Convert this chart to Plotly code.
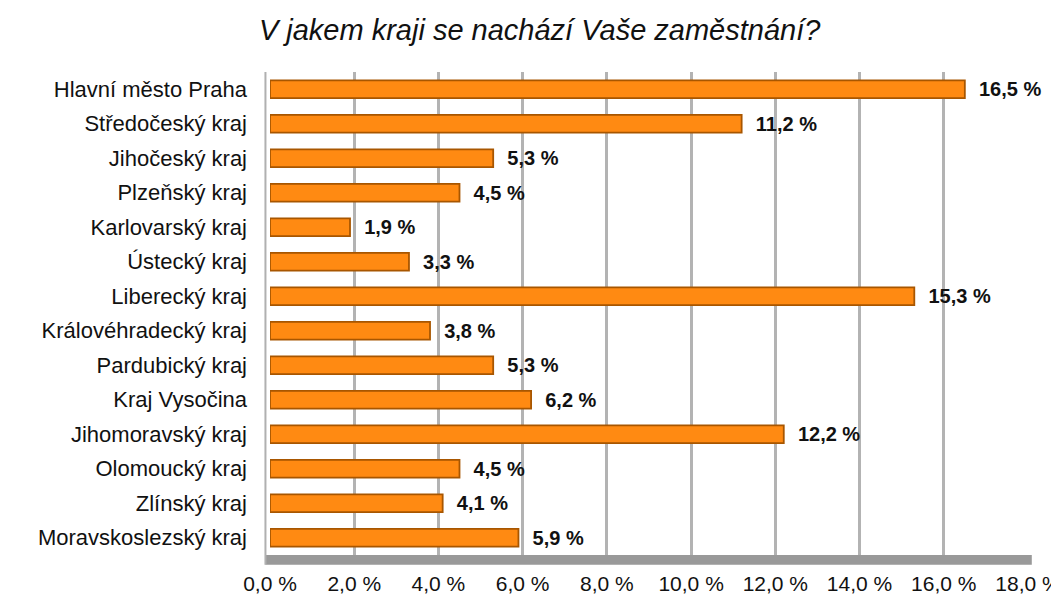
import plotly.graph_objects as go

# Data
regions = ["Hlavní město Praha", "Středočeský kraj", "Jihočeský kraj", "Plzeňský kraj",
           "Karlovarský kraj", "Ústecký kraj", "Liberecký kraj", "Královéhradecký kraj",
           "Pardubický kraj", "Kraj Vysočina", "Jihomoravský kraj", "Olomoucký kraj",
           "Zlínský kraj", "Moravskoslezský kraj"]
shares = [16.5, 11.2, 5.3, 4.5, 1.9, 3.3, 15.3, 3.8, 5.3, 6.2, 12.2, 4.5, 4.1, 5.9]
tick_vals = [0, 2, 4, 6, 8, 10, 12, 14, 16, 18]
tick_text = [f"{v:.1f} %".replace(".", ",") for v in tick_vals]

FONT = "Liberation Sans"

fig = go.Figure()
fig.add_trace(go.Bar(
    y=regions, x=shares, orientation="h", width=0.52,
    marker=dict(color="#ff8a12", line=dict(color="#a85600", width=1.8)),
    texttemplate="\u00a0\u00a0%{x:.1f} %", textposition="outside", cliponaxis=False,
    constraintext="none",
    textfont=dict(family=FONT, size=20, color="#111111", weight="bold"),
    hoverinfo="x+y",
))

# floor and left wall of the pseudo-3D back panel
fig.add_shape(type="rect", xref="paper", yref="paper", x0=-0.006, x1=1.005, y0=-0.02, y1=0,
              fillcolor="#999999", line=dict(width=0), layer="below")
fig.add_shape(type="line", xref="paper", yref="paper", x0=-0.006, x1=-0.006, y0=-0.02, y1=1.0,
              line=dict(color="#b0b0b0", width=2), layer="below")

fig.update_layout(
    width=1059, height=603,
    paper_bgcolor="white", plot_bgcolor="white",
    separators=", ",
    title=dict(text="V jakem kraji se nachází Vaše zaměstnání?", x=0.502, xanchor="center",
               y=0.963, yanchor="middle",
               font=dict(family=FONT, size=29, color="#111111", style="italic")),
    margin=dict(l=262, r=39, t=64, b=56),
    showlegend=False,
    bargap=0.48,
    xaxis=dict(range=[0, 18], tickvals=tick_vals, ticktext=tick_text, automargin=False,
               showgrid=True, gridcolor="#b3b3b3", gridwidth=2.5, zeroline=False,
               showline=False, ticks="", ticklabelstandoff=14,
               tickfont=dict(family=FONT, size=21, color="#111111")),
    yaxis=dict(autorange="reversed", showgrid=False, zeroline=False, showline=False,
               ticks="", ticklabelstandoff=22, automargin=False,
               tickfont=dict(family=FONT, size=22, color="#111111")),
)

fig.write_html("out.html")
